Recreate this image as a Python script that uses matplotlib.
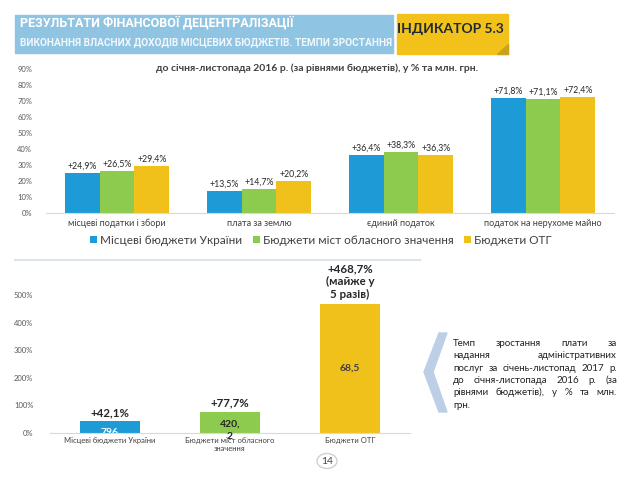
import numpy as np
import matplotlib
matplotlib.use('Agg')
import matplotlib.pyplot as plt
from matplotlib.patches import Rectangle, Polygon, Circle

plt.rcParams['font.family'] = ['Lato', 'DejaVu Sans']

# top chart data: growth rates, % (by budget level)
categories = ['місцеві податки і збори', 'плата за землю', 'єдиний податок',
              'податок на нерухоме майно']
series_names = ['Місцеві бюджети України', 'Бюджети міст обласного значення', 'Бюджети ОТГ']
ukr = [24.9, 13.5, 36.4, 71.8]
cities = [26.5, 14.7, 38.3, 71.1]
otg = [29.4, 20.2, 36.3, 72.4]
top_labels = [['+24,9%', '+13,5%', '+36,4%', '+71,8%'],
              ['+26,5%', '+14,7%', '+38,3%', '+71,1%'],
              ['+29,4%', '+20,2%', '+36,3%', '+72,4%']]

# bottom chart data: administrative services fee
adm_names = ['Місцеві бюджети України', 'Бюджети міст обласного\nзначення', 'Бюджети ОТГ']
adm_growth = [42.1, 77.7, 468.7]
adm_labels = ['+42,1%', '+77,7%', '+468,7%\n(майже у\n5 разів)']
adm_mln = ['796', '420,\n2', '68,5']

colors = ['#1C9BD7', '#8DCB4E', '#F1C11B']

W, H = 640, 480
fig = plt.figure(figsize=(6.4, 4.8), dpi=100)

def fx(x):
    return x / W

def fy(y):
    return 1 - y / H

def box(x0, y0, x1, y1):
    return [fx(x0), fy(y1), fx(x1) - fx(x0), fy(y0) - fy(y1)]

tf = fig.transFigure

# ---- header
fig.patches.append(Rectangle((fx(15), fy(53)), fx(393) - fx(15), fy(15) - fy(53),
                             transform=tf, color='#8FC4E2', zorder=1))
fig.patches.append(Rectangle((fx(397), fy(54)), fx(508) - fx(397), fy(14) - fy(54),
                             transform=tf, color='#F2C21B', zorder=1))
fig.patches.append(Polygon([(fx(497), fy(54)), (fx(508), fy(54)), (fx(508), fy(44))],
                           transform=tf, color='#C9A21A', zorder=2))
fig.text(fx(20), fy(23), 'РЕЗУЛЬТАТИ ФІНАНСОВОЇ ДЕЦЕНТРАЛІЗАЦІЇ', color='white',
         fontsize=9, fontweight='bold', family=['Roboto', 'DejaVu Sans'],
         va='center', ha='left', zorder=5)
fig.text(fx(20), fy(42), 'ВИКОНАННЯ ВЛАСНИХ ДОХОДІВ МІСЦЕВИХ БЮДЖЕТІВ. ТЕМПИ ЗРОСТАННЯ',
         color='#F2F8FC', fontsize=7.3, fontweight='bold', family=['Roboto', 'DejaVu Sans'],
         va='center', ha='left', zorder=5)
fig.text(fx(450), fy(29), 'ІНДИКАТОР 5.3', color='#1E2A36', fontsize=10,
         fontweight='bold', va='center', ha='center', zorder=4)

# ---- top chart
ax = fig.add_axes(box(46, 69, 614, 213))
x = np.arange(len(categories))
bw = 0.246
for i, vals in enumerate([ukr, cities, otg]):
    bars = ax.bar(x + (i - 1) * bw, vals, bw, color=colors[i], label=series_names[i])
    for b, lab in zip(bars, top_labels[i]):
        ax.text(b.get_x() + b.get_width() / 2, b.get_height() + 1.5, lab,
                ha='center', va='bottom', fontsize=6.3, color='#262626')
ax.set_xlim(-0.5, 3.5)
ax.set_ylim(0, 90)
ax.set_yticks(np.arange(0, 91, 10))
ax.set_yticklabels([f'{v}%' for v in range(0, 91, 10)])
ax.set_xticks(x)
ax.set_xticklabels(categories)
ax.tick_params(axis='y', length=0, labelsize=5.5, labelcolor='#595959', pad=10)
ax.tick_params(axis='x', length=0, labelsize=6.5, labelcolor='#404040', pad=4)
for s in ['top', 'right', 'left']:
    ax.spines[s].set_visible(False)
ax.spines['bottom'].set_color('#D9D9D9')
ax.patch.set_alpha(0)
fig.text(fx(317), fy(68), 'до січня-листопада 2016 р. (за рівнями бюджетів), у % та млн. грн.',
         ha='center', va='center', fontsize=7.5, fontweight='bold', color='#404040')
leg = ax.legend(loc='center', bbox_to_anchor=(fx(321), fy(240)), bbox_transform=tf,
                ncol=3, frameon=False, fontsize=8.5, handlelength=0.6, handleheight=0.6,
                handletextpad=0.25, columnspacing=0.9, labelcolor='#404040')

# separator
fig.lines.append(plt.Line2D([fx(15), fx(420)], [fy(260), fy(260)], transform=tf,
                            color='#DCE5EC', lw=1.5))

# ---- bottom chart
ax2 = fig.add_axes(box(50, 295, 410, 433))
xb = np.arange(len(adm_names))
bars = ax2.bar(xb, adm_growth, 0.5, color=colors)
ax2.set_xlim(-0.5, 2.5)
ax2.set_ylim(0, 500)
ax2.set_yticks(np.arange(0, 501, 100))
ax2.set_yticklabels([f'{v}%' for v in range(0, 501, 100)])
ax2.set_xticks(xb)
ax2.set_xticklabels(adm_names)
ax2.tick_params(axis='y', length=0, labelsize=5.5, labelcolor='#595959', pad=12)
ax2.tick_params(axis='x', length=0, labelsize=5.5, labelcolor='#404040', pad=3)
for s in ['top', 'right', 'left']:
    ax2.spines[s].set_visible(False)
ax2.spines['bottom'].set_color('#D9D9D9')
ax2.patch.set_alpha(0)
for b, lab in zip(bars, adm_labels):
    ax2.text(b.get_x() + b.get_width() / 2, b.get_height() + 12, lab, ha='center',
             va='bottom', fontsize=8.3, fontweight='bold', color='#262626', linespacing=1.2)
ax2.text(0, 2, adm_mln[0], ha='center', va='center', fontsize=7.5, fontweight='bold',
         color='white', clip_on=True)
ax2.text(1, 10, adm_mln[1], ha='center', va='center', fontsize=7.5, fontweight='bold',
         color='#262626', linespacing=1.6)
ax2.text(2, 234, adm_mln[2], ha='center', va='center', fontsize=7.5, fontweight='bold',
         color='#404040')

# ---- right note
fig.patches.append(Polygon([(fx(447), fy(333)), (fx(439), fy(333)), (fx(424), fy(372)),
                            (fx(439), fy(412)), (fx(447), fy(412)), (fx(433), fy(372))],
                           transform=tf, color='#BCCFE7', zorder=1))
note_lines = ['Темп зростання плати за', 'надання адміністративних',
              'послуг за січень-листопад 2017 р.', 'до січня-листопада 2016 р. (за',
              'рівнями бюджетів), у % та млн.', 'грн.']
x0, x1 = 453, 617
renderer = fig.canvas.get_renderer()
for k, line in enumerate(note_lines):
    yy = fy(346 + k * 12.3)
    words = line.split()
    if k == len(note_lines) - 1:
        fig.text(fx(x0), yy, line, fontsize=7, color='#222222', va='baseline')
        continue
    ts = [fig.text(0, yy, w_, fontsize=7, color='#222222', va='baseline') for w_ in words]
    widths = [t.get_window_extent(renderer).width for t in ts]
    gap = ((x1 - x0) - sum(widths)) / (len(words) - 1)
    pos = x0
    for t, wd in zip(ts, widths):
        t.set_x(fx(pos))
        pos += wd + gap

# page number
fig.patches.append(Circle((fx(327), fy(461)), 10 / W, transform=tf, facecolor='white',
                          edgecolor='#D0D0D0', lw=1))
fig.text(fx(327), fy(461), '14', ha='center', va='center', fontsize=7.5, color='#404040')

fig.savefig('out.png', dpi=100)
